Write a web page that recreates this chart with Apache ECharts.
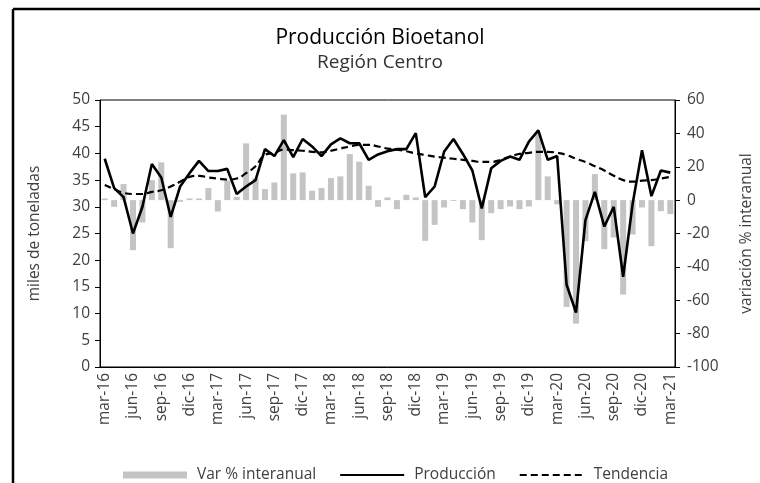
<!DOCTYPE html>
<html>
<head>
<meta charset="utf-8">
<script src="https://cdn.jsdelivr.net/npm/echarts@6/dist/echarts.min.js"></script>
<style>
  html, body { margin: 0; padding: 0; background: #fff; }
  #chart { width: 760px; height: 483px; }
</style>
</head>
<body>
<div id="chart"></div>
<script>
// meses mar-16 .. mar-21
const meses = ['mar-16','abr-16','may-16','jun-16','jul-16','ago-16','sep-16','oct-16','nov-16','dic-16',
  'ene-17','feb-17','mar-17','abr-17','may-17','jun-17','jul-17','ago-17','sep-17','oct-17','nov-17','dic-17',
  'ene-18','feb-18','mar-18','abr-18','may-18','jun-18','jul-18','ago-18','sep-18','oct-18','nov-18','dic-18',
  'ene-19','feb-19','mar-19','abr-19','may-19','jun-19','jul-19','ago-19','sep-19','oct-19','nov-19','dic-19',
  'ene-20','feb-20','mar-20','abr-20','may-20','jun-20','jul-20','ago-20','sep-20','oct-20','nov-20','dic-20',
  'ene-21','feb-21','mar-21'];

// miles de toneladas
const produccion = [39.0,33.5,31.8,25.0,30.0,38.0,35.5,28.1,33.8,36.3,
  38.6,36.7,36.7,37.1,32.4,33.8,35.0,40.8,39.5,42.5,39.3,42.7,
  41.3,39.5,41.7,42.8,41.9,41.9,38.8,39.8,40.4,40.8,40.8,43.8,
  31.8,33.8,40.3,42.7,39.9,36.8,29.7,37.2,38.6,39.4,38.8,42.2,
  44.3,38.8,39.5,15.4,10.2,27.5,32.8,26.3,30.0,16.9,30.5,40.6,
  32.0,36.8,36.4];

const tendencia = [34.1,33.3,32.6,32.4,32.4,32.8,33.1,33.8,34.7,35.6,
  35.8,35.5,35.3,35.1,35.3,36.3,37.6,39.7,40.1,40.7,40.6,40.5,
  40.3,40.2,40.5,40.9,41.3,41.6,41.6,41.3,40.9,40.7,40.4,40.0,
  39.7,39.4,39.2,39.0,38.8,38.6,38.4,38.4,38.8,39.4,39.9,40.1,
  40.3,40.3,40.1,39.7,39.0,38.4,37.6,36.8,35.8,35.0,34.7,34.9,
  35.0,35.3,35.6];

// variación % interanual
const variacion = [1,-4,9.6,-30,-13.4,12,22.6,-28.8,-1,1,
  1,7.2,-6.8,11.6,2,34,13.2,6.6,10.6,51.2,16,16.6,
  5.6,7.2,13.2,14.2,27.6,23,8.6,-4,1.6,-5.4,3.2,1.6,
  -24.4,-14.8,-4.4,-0.5,-5.4,-13.4,-24,-7.8,-5.4,-3.8,-5.4,-3.8,
  39.6,14.2,-2.5,-64,-74,-24.6,15.6,-29.4,-22.4,-56.6,-20.6,-4.4,
  -27.6,-6.6,-8.4];

const fuente = '"Open Sans", "DejaVu Sans", sans-serif';
const gris = '#404040';

const chart = echarts.init(document.getElementById('chart'));
chart.setOption({
  animation: false,
  textStyle: { fontFamily: fuente },
  title: {
    text: 'Producción Bioetanol',
    subtext: 'Región Centro',
    left: 'center',
    top: 23,
    itemGap: 4,
    textStyle: { fontSize: 21, fontWeight: 'normal', color: '#000', fontFamily: fuente },
    subtextStyle: { fontSize: 19, color: '#333', fontFamily: fuente }
  },
  graphic: [
    { type: 'line', shape: { x1: 13, y1: 9, x2: 760, y2: 9 }, style: { stroke: '#000', lineWidth: 2.5 } },
    { type: 'line', shape: { x1: 13, y1: 9, x2: 13, y2: 483 }, style: { stroke: '#000', lineWidth: 2.5 } }
  ],
  legend: {
    top: 462,
    left: 118,
    itemWidth: 64,
    itemHeight: 7,
    itemGap: 23,
    textStyle: { fontSize: 15.5, color: gris, padding: [0, 0, 0, 5] },
    data: [
      { name: 'Var % interanual', icon: 'rect' },
      { name: 'Producción', itemStyle: { opacity: 0 } },
      { name: 'Tendencia', itemStyle: { opacity: 0 } }
    ]
  },
  grid: {
    left: 100, right: 85, top: 100, bottom: 116,
    outerBoundsMode: 'none',
    show: true, borderColor: '#000', borderWidth: 1
  },
  xAxis: {
    type: 'category',
    data: meses,
    boundaryGap: true,
    axisLine: { lineStyle: { color: '#000' } },
    axisTick: { alignWithLabel: true, interval: 2, length: 5, lineStyle: { color: '#000' } },
    axisLabel: { interval: 2, rotate: 90, fontSize: 15.5, color: gris, margin: 6 }
  },
  yAxis: [
    {
      type: 'value', min: 0, max: 50, interval: 5,
      name: 'miles de toneladas', nameLocation: 'middle', nameGap: 57,
      nameTextStyle: { fontSize: 15.5, color: gris },
      axisLine: { show: true, lineStyle: { color: '#000' } },
      axisTick: { show: true, length: 5, lineStyle: { color: '#000' } },
      axisLabel: { fontSize: 15.5, color: gris, margin: 10 },
      splitLine: { show: false }
    },
    {
      type: 'value', min: -100, max: 60, interval: 20,
      name: 'variación % interanual', nameLocation: 'middle', nameGap: 64, nameRotate: 90,
      nameTextStyle: { fontSize: 15.5, color: gris },
      axisLine: { show: true, lineStyle: { color: '#000' } },
      axisTick: { show: true, length: 5, lineStyle: { color: '#000' } },
      axisLabel: { fontSize: 15.5, color: gris, margin: 12 },
      splitLine: { show: false }
    }
  ],
  series: [
    {
      name: 'Var % interanual', type: 'bar', yAxisIndex: 1,
      data: variacion, barWidth: 6,
      itemStyle: { color: '#c4c4c4' }
    },
    {
      name: 'Producción', type: 'line', yAxisIndex: 0,
      data: produccion, symbol: 'none',
      lineStyle: { color: '#000', width: 2.6 },
      itemStyle: { color: '#000' }
    },
    {
      name: 'Tendencia', type: 'line', yAxisIndex: 0,
      data: tendencia, symbol: 'none', smooth: true,
      lineStyle: { color: '#000', width: 2.2, type: [7, 4] },
      itemStyle: { color: '#000' }
    }
  ]
});
</script>
</body>
</html>
